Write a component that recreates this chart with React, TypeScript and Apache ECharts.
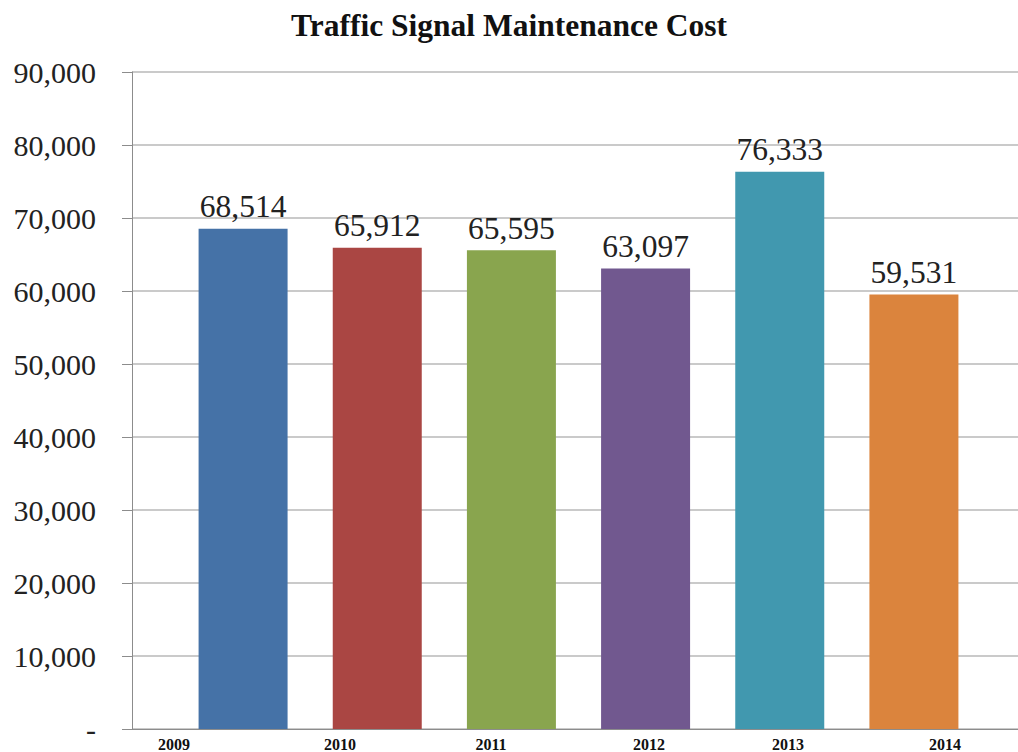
import React, { useEffect, useRef } from "react";
import * as echarts from "echarts";

const title = "Traffic Signal Maintenance Cost";
const years = ["2009", "2010", "2011", "2012", "2013", "2014"];
const costs = [68514, 65912, 65595, 63097, 76333, 59531];
const barColors = ["#4572A7", "#AA4643", "#89A54E", "#71588F", "#4198AF", "#DB843D"];
const yMax = 90000;
const yStep = 10000;

// layout only: horizontal centres of the year labels (as placed in the source picture)
const yearLabelX = [174, 340, 491, 649, 788, 945];

const FONT = "'Liberation Serif', 'Times New Roman', serif";

export default function App() {
  const ref = useRef<HTMLDivElement>(null);
  useEffect(() => {
    if (!ref.current) return;
    const chart = echarts.init(ref.current, undefined, { renderer: "svg" });
    const fmt = (v: number) => (v === 0 ? "-" : v.toLocaleString("en-US"));
    chart.setOption({
      animation: false,
      backgroundColor: "#ffffff",
      title: {
        text: title,
        left: "center",
        top: 9,
        padding: 0,
        textStyle: { fontFamily: FONT, fontWeight: "bold", fontSize: 31.5, color: "#111" },
      },
      grid: [
        { left: 176, right: 37, top: 72, bottom: 23 },
        { left: 132, right: 0, top: 72, bottom: 23 },
      ],
      xAxis: [
        {
          type: "category",
          gridIndex: 0,
          data: years,
          axisLine: { show: false },
          axisTick: { show: false },
          axisLabel: { show: false },
        },
        {
          type: "value",
          gridIndex: 1,
          min: 0,
          max: 1,
          axisLine: { show: true, lineStyle: { color: "#8c8c8c", width: 1 } },
          axisTick: { show: false },
          axisLabel: { show: false },
          splitLine: { show: false },
        },
      ],
      yAxis: [
        {
          type: "value",
          gridIndex: 0,
          min: 0,
          max: yMax,
          interval: yStep,
          show: false,
          splitLine: { show: false },
        },
        {
          type: "value",
          gridIndex: 1,
          min: 0,
          max: yMax,
          interval: yStep,
          axisLine: { show: true, lineStyle: { color: "#8c8c8c", width: 1 } },
          axisTick: { show: true, length: 10, lineStyle: { color: "#8c8c8c" } },
          axisLabel: {
            formatter: fmt,
            margin: 36,
            fontFamily: FONT,
            fontSize: 30,
            color: "#222",
          },
          splitLine: { show: true, lineStyle: { color: "#b8b8b8", width: 1.5 } },
        },
      ],
      series: [
        {
          type: "bar",
          xAxisIndex: 0,
          yAxisIndex: 0,
          barWidth: 89,
          data: costs.map((v, i) => ({ value: v, itemStyle: { color: barColors[i] } })),
          label: {
            show: true,
            position: "top",
            distance: 6,
            formatter: (p: any) => fmt(p.value),
            fontFamily: FONT,
            fontSize: 31.5,
            color: "#222",
          },
        },
      ],
      graphic: years.map((y, i) => ({
        type: "text",
        x: yearLabelX[i],
        y: 744,
        style: {
          text: y,
          fontFamily: FONT,
          fontWeight: "bold",
          fontSize: 16,
          fill: "#111",
          textAlign: "center",
          textVerticalAlign: "middle",
        },
      })),
    });
    return () => chart.dispose();
  }, []);
  return (
    <div
      ref={ref}
      style={{ position: "absolute", left: 0, top: 0, width: 1018, height: 752 }}
    />
  );
}
